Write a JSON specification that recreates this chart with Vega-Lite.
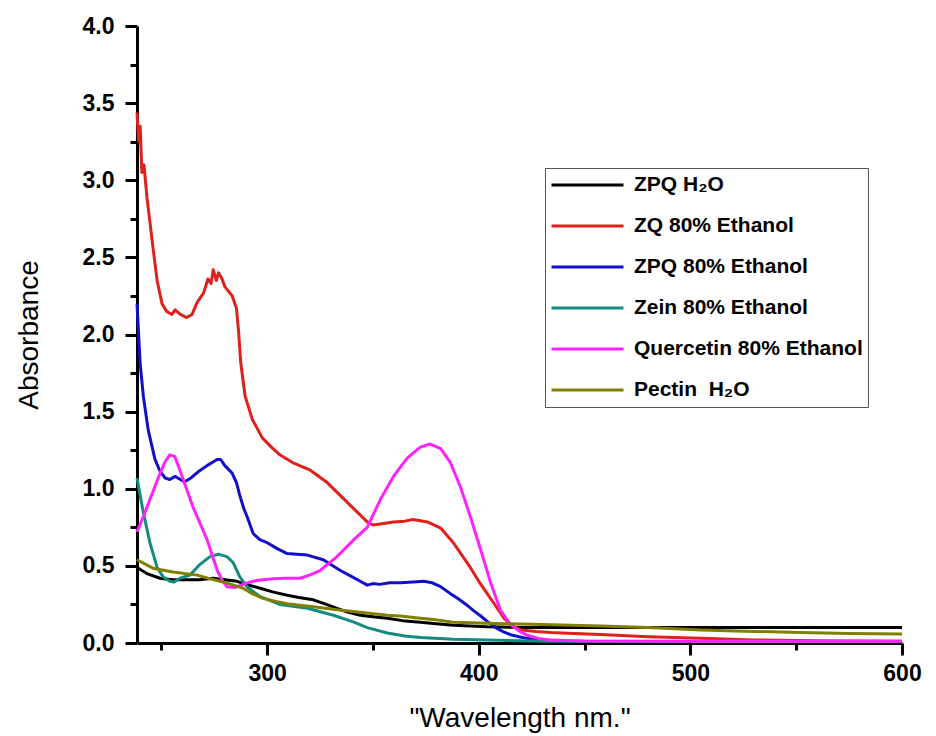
{
  "$schema": "https://vega.github.io/schema/vega-lite/v6.json",
  "width": 765,
  "height": 617,
  "autosize": "none",
  "padding": {"left": 137, "top": 26, "right": 34, "bottom": 93},
  "background": "white",
  "config": {"view": {"stroke": null}, "font": "Liberation Sans"},
  "datasets": {
    "spectra": [
      {"s": "ZPQ H₂O", "x": 238.5, "y": 0.49}, {"s": "ZPQ H₂O", "x": 243.2, "y": 0.45}, {"s": "ZPQ H₂O", "x": 249.4, "y": 0.42}, {"s": "ZPQ H₂O", "x": 255, "y": 0.41}, {"s": "ZPQ H₂O", "x": 262, "y": 0.41}, {"s": "ZPQ H₂O", "x": 268, "y": 0.41}, {"s": "ZPQ H₂O", "x": 274.5, "y": 0.42}, {"s": "ZPQ H₂O", "x": 280, "y": 0.41}, {"s": "ZPQ H₂O", "x": 285.8, "y": 0.40}, {"s": "ZPQ H₂O", "x": 290, "y": 0.38}, {"s": "ZPQ H₂O", "x": 296.7, "y": 0.355}, {"s": "ZPQ H₂O", "x": 303, "y": 0.33}, {"s": "ZPQ H₂O", "x": 309.5, "y": 0.31}, {"s": "ZPQ H₂O", "x": 315, "y": 0.295}, {"s": "ZPQ H₂O", "x": 321.8, "y": 0.28}, {"s": "ZPQ H₂O", "x": 328, "y": 0.25}, {"s": "ZPQ H₂O", "x": 333, "y": 0.225}, {"s": "ZPQ H₂O", "x": 338, "y": 0.2}, {"s": "ZPQ H₂O", "x": 344, "y": 0.18}, {"s": "ZPQ H₂O", "x": 350, "y": 0.17}, {"s": "ZPQ H₂O", "x": 356.8, "y": 0.16}, {"s": "ZPQ H₂O", "x": 364, "y": 0.145}, {"s": "ZPQ H₂O", "x": 372.4, "y": 0.135}, {"s": "ZPQ H₂O", "x": 380, "y": 0.125}, {"s": "ZPQ H₂O", "x": 388, "y": 0.115}, {"s": "ZPQ H₂O", "x": 396, "y": 0.11}, {"s": "ZPQ H₂O", "x": 404, "y": 0.105}, {"s": "ZPQ H₂O", "x": 420, "y": 0.1}, {"s": "ZPQ H₂O", "x": 450, "y": 0.1}, {"s": "ZPQ H₂O", "x": 500, "y": 0.1}, {"s": "ZPQ H₂O", "x": 550, "y": 0.1}, {"s": "ZPQ H₂O", "x": 600, "y": 0.1},

      {"s": " ZQ 80% Ethanol", "x": 238.5, "y": 3.44}, {"s": " ZQ 80% Ethanol", "x": 239.3, "y": 3.25}, {"s": " ZQ 80% Ethanol", "x": 240.0, "y": 3.35}, {"s": " ZQ 80% Ethanol", "x": 240.8, "y": 3.05}, {"s": " ZQ 80% Ethanol", "x": 241.8, "y": 3.1}, {"s": " ZQ 80% Ethanol", "x": 243.2, "y": 2.89}, {"s": " ZQ 80% Ethanol", "x": 246, "y": 2.57}, {"s": " ZQ 80% Ethanol", "x": 248, "y": 2.35}, {"s": " ZQ 80% Ethanol", "x": 250.3, "y": 2.2}, {"s": " ZQ 80% Ethanol", "x": 252.5, "y": 2.15}, {"s": " ZQ 80% Ethanol", "x": 255, "y": 2.13}, {"s": " ZQ 80% Ethanol", "x": 256.5, "y": 2.16}, {"s": " ZQ 80% Ethanol", "x": 259, "y": 2.13}, {"s": " ZQ 80% Ethanol", "x": 262, "y": 2.11}, {"s": " ZQ 80% Ethanol", "x": 264.5, "y": 2.13}, {"s": " ZQ 80% Ethanol", "x": 267, "y": 2.21}, {"s": " ZQ 80% Ethanol", "x": 270, "y": 2.27}, {"s": " ZQ 80% Ethanol", "x": 272, "y": 2.36}, {"s": " ZQ 80% Ethanol", "x": 273.5, "y": 2.33}, {"s": " ZQ 80% Ethanol", "x": 274.5, "y": 2.42}, {"s": " ZQ 80% Ethanol", "x": 276, "y": 2.35}, {"s": " ZQ 80% Ethanol", "x": 277, "y": 2.4}, {"s": " ZQ 80% Ethanol", "x": 278.7, "y": 2.36}, {"s": " ZQ 80% Ethanol", "x": 280, "y": 2.31}, {"s": " ZQ 80% Ethanol", "x": 283.5, "y": 2.25}, {"s": " ZQ 80% Ethanol", "x": 285.5, "y": 2.17}, {"s": " ZQ 80% Ethanol", "x": 286.5, "y": 2.02}, {"s": " ZQ 80% Ethanol", "x": 287.5, "y": 1.82}, {"s": " ZQ 80% Ethanol", "x": 289.6, "y": 1.6}, {"s": " ZQ 80% Ethanol", "x": 293, "y": 1.45}, {"s": " ZQ 80% Ethanol", "x": 297.7, "y": 1.33}, {"s": " ZQ 80% Ethanol", "x": 302, "y": 1.27}, {"s": " ZQ 80% Ethanol", "x": 306, "y": 1.22}, {"s": " ZQ 80% Ethanol", "x": 312, "y": 1.17}, {"s": " ZQ 80% Ethanol", "x": 320.4, "y": 1.12}, {"s": " ZQ 80% Ethanol", "x": 328.4, "y": 1.04}, {"s": " ZQ 80% Ethanol", "x": 338, "y": 0.91}, {"s": " ZQ 80% Ethanol", "x": 347.3, "y": 0.785}, {"s": " ZQ 80% Ethanol", "x": 350, "y": 0.765}, {"s": " ZQ 80% Ethanol", "x": 355, "y": 0.775}, {"s": " ZQ 80% Ethanol", "x": 359.7, "y": 0.785}, {"s": " ZQ 80% Ethanol", "x": 365, "y": 0.79}, {"s": " ZQ 80% Ethanol", "x": 369, "y": 0.8}, {"s": " ZQ 80% Ethanol", "x": 375.7, "y": 0.785}, {"s": " ZQ 80% Ethanol", "x": 382, "y": 0.745}, {"s": " ZQ 80% Ethanol", "x": 388, "y": 0.65}, {"s": " ZQ 80% Ethanol", "x": 392, "y": 0.57}, {"s": " ZQ 80% Ethanol", "x": 396, "y": 0.49}, {"s": " ZQ 80% Ethanol", "x": 400, "y": 0.4}, {"s": " ZQ 80% Ethanol", "x": 404, "y": 0.32}, {"s": " ZQ 80% Ethanol", "x": 408, "y": 0.24}, {"s": " ZQ 80% Ethanol", "x": 412, "y": 0.16}, {"s": " ZQ 80% Ethanol", "x": 416, "y": 0.11}, {"s": " ZQ 80% Ethanol", "x": 420, "y": 0.085}, {"s": " ZQ 80% Ethanol", "x": 427, "y": 0.075}, {"s": " ZQ 80% Ethanol", "x": 434, "y": 0.068}, {"s": " ZQ 80% Ethanol", "x": 445, "y": 0.062}, {"s": " ZQ 80% Ethanol", "x": 457.6, "y": 0.055}, {"s": " ZQ 80% Ethanol", "x": 480, "y": 0.04}, {"s": " ZQ 80% Ethanol", "x": 505, "y": 0.03}, {"s": " ZQ 80% Ethanol", "x": 530, "y": 0.02}, {"s": " ZQ 80% Ethanol", "x": 560, "y": 0.015}, {"s": " ZQ 80% Ethanol", "x": 600, "y": 0.012},

      {"s": "ZPQ 80% Ethanol", "x": 238.5, "y": 2.2}, {"s": "ZPQ 80% Ethanol", "x": 240, "y": 1.81}, {"s": "ZPQ 80% Ethanol", "x": 241.5, "y": 1.6}, {"s": "ZPQ 80% Ethanol", "x": 243.8, "y": 1.38}, {"s": "ZPQ 80% Ethanol", "x": 247, "y": 1.19}, {"s": "ZPQ 80% Ethanol", "x": 249.5, "y": 1.11}, {"s": "ZPQ 80% Ethanol", "x": 251.8, "y": 1.07}, {"s": "ZPQ 80% Ethanol", "x": 254, "y": 1.06}, {"s": "ZPQ 80% Ethanol", "x": 256.5, "y": 1.08}, {"s": "ZPQ 80% Ethanol", "x": 259, "y": 1.06}, {"s": "ZPQ 80% Ethanol", "x": 261, "y": 1.045}, {"s": "ZPQ 80% Ethanol", "x": 264, "y": 1.07}, {"s": "ZPQ 80% Ethanol", "x": 267.4, "y": 1.11}, {"s": "ZPQ 80% Ethanol", "x": 271.6, "y": 1.15}, {"s": "ZPQ 80% Ethanol", "x": 274, "y": 1.17}, {"s": "ZPQ 80% Ethanol", "x": 276.4, "y": 1.19}, {"s": "ZPQ 80% Ethanol", "x": 278, "y": 1.19}, {"s": "ZPQ 80% Ethanol", "x": 280, "y": 1.15}, {"s": "ZPQ 80% Ethanol", "x": 283.5, "y": 1.1}, {"s": "ZPQ 80% Ethanol", "x": 285.5, "y": 1.04}, {"s": "ZPQ 80% Ethanol", "x": 287, "y": 0.96}, {"s": "ZPQ 80% Ethanol", "x": 289, "y": 0.87}, {"s": "ZPQ 80% Ethanol", "x": 290.5, "y": 0.82}, {"s": "ZPQ 80% Ethanol", "x": 293.4, "y": 0.71}, {"s": "ZPQ 80% Ethanol", "x": 296.5, "y": 0.67}, {"s": "ZPQ 80% Ethanol", "x": 300, "y": 0.65}, {"s": "ZPQ 80% Ethanol", "x": 305, "y": 0.61}, {"s": "ZPQ 80% Ethanol", "x": 309.5, "y": 0.58}, {"s": "ZPQ 80% Ethanol", "x": 314, "y": 0.575}, {"s": "ZPQ 80% Ethanol", "x": 319, "y": 0.57}, {"s": "ZPQ 80% Ethanol", "x": 326.5, "y": 0.54}, {"s": "ZPQ 80% Ethanol", "x": 334.6, "y": 0.47}, {"s": "ZPQ 80% Ethanol", "x": 340, "y": 0.43}, {"s": "ZPQ 80% Ethanol", "x": 344, "y": 0.4}, {"s": "ZPQ 80% Ethanol", "x": 347.3, "y": 0.375}, {"s": "ZPQ 80% Ethanol", "x": 350, "y": 0.385}, {"s": "ZPQ 80% Ethanol", "x": 353, "y": 0.38}, {"s": "ZPQ 80% Ethanol", "x": 358, "y": 0.39}, {"s": "ZPQ 80% Ethanol", "x": 363, "y": 0.39}, {"s": "ZPQ 80% Ethanol", "x": 369, "y": 0.395}, {"s": "ZPQ 80% Ethanol", "x": 374, "y": 0.4}, {"s": "ZPQ 80% Ethanol", "x": 378, "y": 0.39}, {"s": "ZPQ 80% Ethanol", "x": 382, "y": 0.365}, {"s": "ZPQ 80% Ethanol", "x": 386.6, "y": 0.32}, {"s": "ZPQ 80% Ethanol", "x": 390, "y": 0.29}, {"s": "ZPQ 80% Ethanol", "x": 394, "y": 0.25}, {"s": "ZPQ 80% Ethanol", "x": 397.5, "y": 0.21}, {"s": "ZPQ 80% Ethanol", "x": 400.5, "y": 0.18}, {"s": "ZPQ 80% Ethanol", "x": 404, "y": 0.14}, {"s": "ZPQ 80% Ethanol", "x": 408, "y": 0.1}, {"s": "ZPQ 80% Ethanol", "x": 412, "y": 0.07}, {"s": "ZPQ 80% Ethanol", "x": 416, "y": 0.05}, {"s": "ZPQ 80% Ethanol", "x": 420, "y": 0.037}, {"s": "ZPQ 80% Ethanol", "x": 425, "y": 0.025}, {"s": "ZPQ 80% Ethanol", "x": 432, "y": 0.017}, {"s": "ZPQ 80% Ethanol", "x": 443, "y": 0.012}, {"s": "ZPQ 80% Ethanol", "x": 500, "y": 0.01}, {"s": "ZPQ 80% Ethanol", "x": 600, "y": 0.01},

      {"s": "Zein 80% Ethanol", "x": 238.5, "y": 1.07}, {"s": "Zein 80% Ethanol", "x": 241.3, "y": 0.86}, {"s": "Zein 80% Ethanol", "x": 244.6, "y": 0.65}, {"s": "Zein 80% Ethanol", "x": 248, "y": 0.49}, {"s": "Zein 80% Ethanol", "x": 250.8, "y": 0.43}, {"s": "Zein 80% Ethanol", "x": 254, "y": 0.4}, {"s": "Zein 80% Ethanol", "x": 256, "y": 0.395}, {"s": "Zein 80% Ethanol", "x": 258.8, "y": 0.42}, {"s": "Zein 80% Ethanol", "x": 263.5, "y": 0.44}, {"s": "Zein 80% Ethanol", "x": 268.3, "y": 0.51}, {"s": "Zein 80% Ethanol", "x": 273, "y": 0.56}, {"s": "Zein 80% Ethanol", "x": 277, "y": 0.575}, {"s": "Zein 80% Ethanol", "x": 281, "y": 0.56}, {"s": "Zein 80% Ethanol", "x": 284, "y": 0.52}, {"s": "Zein 80% Ethanol", "x": 287, "y": 0.43}, {"s": "Zein 80% Ethanol", "x": 290.5, "y": 0.365}, {"s": "Zein 80% Ethanol", "x": 296.7, "y": 0.3}, {"s": "Zein 80% Ethanol", "x": 306, "y": 0.25}, {"s": "Zein 80% Ethanol", "x": 319, "y": 0.225}, {"s": "Zein 80% Ethanol", "x": 331.3, "y": 0.18}, {"s": "Zein 80% Ethanol", "x": 341, "y": 0.135}, {"s": "Zein 80% Ethanol", "x": 347.3, "y": 0.1}, {"s": "Zein 80% Ethanol", "x": 356.8, "y": 0.065}, {"s": "Zein 80% Ethanol", "x": 365, "y": 0.045}, {"s": "Zein 80% Ethanol", "x": 372.4, "y": 0.035}, {"s": "Zein 80% Ethanol", "x": 388, "y": 0.025}, {"s": "Zein 80% Ethanol", "x": 404, "y": 0.02}, {"s": "Zein 80% Ethanol", "x": 430, "y": 0.012}, {"s": "Zein 80% Ethanol", "x": 500, "y": 0.01}, {"s": "Zein 80% Ethanol", "x": 600, "y": 0.01},

      {"s": "Quercetin 80% Ethanol", "x": 238.5, "y": 0.72}, {"s": "Quercetin 80% Ethanol", "x": 241.5, "y": 0.82}, {"s": "Quercetin 80% Ethanol", "x": 244.6, "y": 0.93}, {"s": "Quercetin 80% Ethanol", "x": 249.4, "y": 1.1}, {"s": "Quercetin 80% Ethanol", "x": 252, "y": 1.18}, {"s": "Quercetin 80% Ethanol", "x": 254, "y": 1.22}, {"s": "Quercetin 80% Ethanol", "x": 256.3, "y": 1.21}, {"s": "Quercetin 80% Ethanol", "x": 258, "y": 1.15}, {"s": "Quercetin 80% Ethanol", "x": 259.8, "y": 1.08}, {"s": "Quercetin 80% Ethanol", "x": 265, "y": 0.88}, {"s": "Quercetin 80% Ethanol", "x": 271.6, "y": 0.67}, {"s": "Quercetin 80% Ethanol", "x": 276.4, "y": 0.47}, {"s": "Quercetin 80% Ethanol", "x": 279, "y": 0.4}, {"s": "Quercetin 80% Ethanol", "x": 281, "y": 0.365}, {"s": "Quercetin 80% Ethanol", "x": 285, "y": 0.36}, {"s": "Quercetin 80% Ethanol", "x": 290.5, "y": 0.39}, {"s": "Quercetin 80% Ethanol", "x": 295, "y": 0.405}, {"s": "Quercetin 80% Ethanol", "x": 301.4, "y": 0.415}, {"s": "Quercetin 80% Ethanol", "x": 308, "y": 0.42}, {"s": "Quercetin 80% Ethanol", "x": 315.6, "y": 0.42}, {"s": "Quercetin 80% Ethanol", "x": 320, "y": 0.44}, {"s": "Quercetin 80% Ethanol", "x": 325, "y": 0.47}, {"s": "Quercetin 80% Ethanol", "x": 333, "y": 0.56}, {"s": "Quercetin 80% Ethanol", "x": 341, "y": 0.67}, {"s": "Quercetin 80% Ethanol", "x": 347.3, "y": 0.75}, {"s": "Quercetin 80% Ethanol", "x": 353.5, "y": 0.93}, {"s": "Quercetin 80% Ethanol", "x": 359.7, "y": 1.08}, {"s": "Quercetin 80% Ethanol", "x": 366.3, "y": 1.2}, {"s": "Quercetin 80% Ethanol", "x": 372.4, "y": 1.27}, {"s": "Quercetin 80% Ethanol", "x": 377, "y": 1.29}, {"s": "Quercetin 80% Ethanol", "x": 382, "y": 1.26}, {"s": "Quercetin 80% Ethanol", "x": 386.6, "y": 1.17}, {"s": "Quercetin 80% Ethanol", "x": 391.4, "y": 1.01}, {"s": "Quercetin 80% Ethanol", "x": 396, "y": 0.82}, {"s": "Quercetin 80% Ethanol", "x": 401, "y": 0.6}, {"s": "Quercetin 80% Ethanol", "x": 405.6, "y": 0.39}, {"s": "Quercetin 80% Ethanol", "x": 410.3, "y": 0.21}, {"s": "Quercetin 80% Ethanol", "x": 415, "y": 0.12}, {"s": "Quercetin 80% Ethanol", "x": 420, "y": 0.07}, {"s": "Quercetin 80% Ethanol", "x": 423, "y": 0.05}, {"s": "Quercetin 80% Ethanol", "x": 428, "y": 0.03}, {"s": "Quercetin 80% Ethanol", "x": 434, "y": 0.02}, {"s": "Quercetin 80% Ethanol", "x": 450, "y": 0.013}, {"s": "Quercetin 80% Ethanol", "x": 500, "y": 0.012}, {"s": "Quercetin 80% Ethanol", "x": 600, "y": 0.012},

      {"s": "Pectin  H₂O", "x": 238.5, "y": 0.54}, {"s": "Pectin  H₂O", "x": 246, "y": 0.485}, {"s": "Pectin  H₂O", "x": 255.5, "y": 0.46}, {"s": "Pectin  H₂O", "x": 267, "y": 0.44}, {"s": "Pectin  H₂O", "x": 272, "y": 0.42}, {"s": "Pectin  H₂O", "x": 277.8, "y": 0.4}, {"s": "Pectin  H₂O", "x": 283, "y": 0.38}, {"s": "Pectin  H₂O", "x": 288.7, "y": 0.355}, {"s": "Pectin  H₂O", "x": 293, "y": 0.32}, {"s": "Pectin  H₂O", "x": 298, "y": 0.29}, {"s": "Pectin  H₂O", "x": 304, "y": 0.27}, {"s": "Pectin  H₂O", "x": 309.5, "y": 0.255}, {"s": "Pectin  H₂O", "x": 321.8, "y": 0.235}, {"s": "Pectin  H₂O", "x": 333, "y": 0.215}, {"s": "Pectin  H₂O", "x": 344, "y": 0.2}, {"s": "Pectin  H₂O", "x": 356.8, "y": 0.18}, {"s": "Pectin  H₂O", "x": 363, "y": 0.175}, {"s": "Pectin  H₂O", "x": 372.4, "y": 0.16}, {"s": "Pectin  H₂O", "x": 380, "y": 0.15}, {"s": "Pectin  H₂O", "x": 388, "y": 0.135}, {"s": "Pectin  H₂O", "x": 400, "y": 0.13}, {"s": "Pectin  H₂O", "x": 412, "y": 0.125}, {"s": "Pectin  H₂O", "x": 430, "y": 0.12}, {"s": "Pectin  H₂O", "x": 457.6, "y": 0.11}, {"s": "Pectin  H₂O", "x": 480, "y": 0.1}, {"s": "Pectin  H₂O", "x": 505, "y": 0.085}, {"s": "Pectin  H₂O", "x": 530, "y": 0.075}, {"s": "Pectin  H₂O", "x": 552, "y": 0.068}, {"s": "Pectin  H₂O", "x": 575, "y": 0.062}, {"s": "Pectin  H₂O", "x": 600, "y": 0.058}
    ]
  },
  "data": {"name": "spectra"},
  "resolve": {"axis": {"x": "independent", "y": "independent"}},
  "layer": [
    {
      "mark": {"type": "point", "opacity": 0},
      "encoding": {
        "x": {
          "field": "x", "type": "quantitative",
          "scale": {"domain": [238.5, 600], "nice": false, "zero": false},
          "axis": {
            "orient": "bottom", "title": null, "labels": false, "domain": false, "grid": false,
            "values": [250, 350, 450, 550],
            "tickColor": "#000000", "tickWidth": 3, "tickSize": 7
          }
        },
        "y": {
          "field": "y", "type": "quantitative",
          "scale": {"domain": [0, 4], "nice": false},
          "axis": {
            "orient": "left", "title": null, "labels": false, "domain": false, "grid": false,
            "values": [0.25, 0.75, 1.25, 1.75, 2.25, 2.75, 3.25, 3.75],
            "tickColor": "#000000", "tickWidth": 3, "tickSize": 7
          }
        }
      }
    },
    {
      "mark": {"type": "line", "strokeWidth": 3, "strokeJoin": "round"},
      "encoding": {
        "x": {
          "field": "x", "type": "quantitative",
          "scale": {"domain": [238.5, 600], "nice": false, "zero": false},
          "axis": {
            "orient": "bottom",
            "title": "\"Wavelength nm.\"",
            "titleFont": "Liberation Sans", "titleFontSize": 28, "titleFontWeight": "normal", "titleColor": "#000000", "titlePadding": 19,
            "values": [300, 400, 500, 600],
            "labelFont": "Liberation Sans", "labelFontSize": 23, "labelFontWeight": "bold", "labelColor": "#000000",
            "labelPadding": 7, "labelFlush": false, "labelOverlap": false,
            "grid": false, "domainColor": "#000000", "domainWidth": 3,
            "tickColor": "#000000", "tickWidth": 3, "tickSize": 12
          }
        },
        "y": {
          "field": "y", "type": "quantitative",
          "scale": {"domain": [0, 4], "nice": false},
          "axis": {
            "orient": "left",
            "title": "Absorbance",
            "titleFont": "Liberation Sans", "titleFontSize": 28, "titleFontWeight": "normal", "titleColor": "#000000", "titlePadding": 39,
            "values": [0, 0.5, 1, 1.5, 2, 2.5, 3, 3.5, 4],
            "format": ".1f",
            "labelFont": "Liberation Sans", "labelFontSize": 23, "labelFontWeight": "bold", "labelColor": "#000000",
            "labelPadding": 11, "labelOverlap": false,
            "grid": false, "domainColor": "#000000", "domainWidth": 3,
            "tickColor": "#000000", "tickWidth": 3, "tickSize": 12
          }
        },
        "color": {
          "field": "s", "type": "nominal",
          "scale": {
            "domain": ["ZPQ H₂O", " ZQ 80% Ethanol", "ZPQ 80% Ethanol", "Zein 80% Ethanol", "Quercetin 80% Ethanol", "Pectin  H₂O"],
            "range": ["#000000", "#e0201b", "#1010cc", "#158a80", "#ff22ff", "#808000"]
          },
          "legend": {
            "title": null,
            "orient": "none", "legendX": 408, "legendY": 142,
            "strokeColor": "#555555", "padding": 5, "fillColor": "white",
            "symbolType": "stroke", "symbolSize": 5184, "symbolStrokeWidth": 3,
            "clipHeight": 24, "rowPadding": 17,
            "labelFont": "Liberation Sans", "labelFontSize": 21, "labelFontWeight": "bold", "labelColor": "#000000",
            "labelOffset": 9, "labelLimit": 400,
            "labelExpr": "datum.value === ' ZQ 80% Ethanol' ? '\u00a0\u00a0ZQ 80% Ethanol' : (datum.value === 'Pectin  H₂O' ? 'Pectin \u00a0H₂O' : datum.value)"
          }
        }
      }
    }
  ]
}
